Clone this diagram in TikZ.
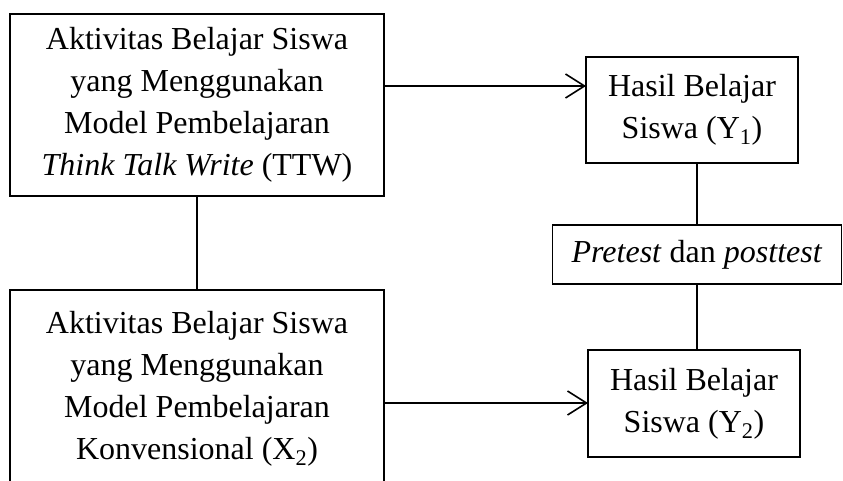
\documentclass[tikz,border=0pt]{standalone}
\usepackage{fontspec}
\setmainfont{Liberation Serif}
\usetikzlibrary{arrows.meta}
\begin{document}
\begin{tikzpicture}[x=1pt,y=-1pt,
  box/.style={draw, line width=1.6pt, inner sep=0pt, outer sep=0pt, align=center,
    font=\fontsize{32}{42}\selectfont},
  conn/.style={line width=1.6pt},
  arr/.style={line width=1.6pt, -{Straight Barb[length=19pt,width=24pt,line width=1.6pt]}}]
\clip (0,0) rectangle (843,480);
\node[box, minimum width=374pt, minimum height=182pt] (b1) at (197,105)
  {Aktivitas Belajar Siswa\\yang Menggunakan\\Model Pembelajaran\\\textit{Think Talk Write} (TTW)};
\node[box, minimum width=374pt, minimum height=198pt] (b2) at (197,389)
  {Aktivitas Belajar Siswa\\yang Menggunakan\\Model Pembelajaran\\Konvensional (X\textsubscript{2})};
\node[box, minimum width=212pt, minimum height=106pt] (y1) at (692,110)
  {Hasil Belajar\\Siswa (Y\textsubscript{1})};
\node[box, minimum width=289pt, minimum height=59pt] (pt) at (697,254.5)
  {\textit{Pretest} dan \textit{posttest}};
\node[box, minimum width=212pt, minimum height=107pt] (y2) at (694,403.5)
  {Hasil Belajar\\Siswa (Y\textsubscript{2})};
\draw[conn] (b1.south) -- (b2.north);
\draw[arr] ([yshift=19pt]b1.east) coordinate (a1) -- (a1 -| y1.west);
\draw[arr] ([yshift=-14pt]b2.east) coordinate (a2) -- (a2 -| y2.west);
\draw[conn] (pt.north) -- (pt.north |- y1.south);
\draw[conn] (pt.south) -- (pt.south |- y2.north);
\end{tikzpicture}
\end{document}
